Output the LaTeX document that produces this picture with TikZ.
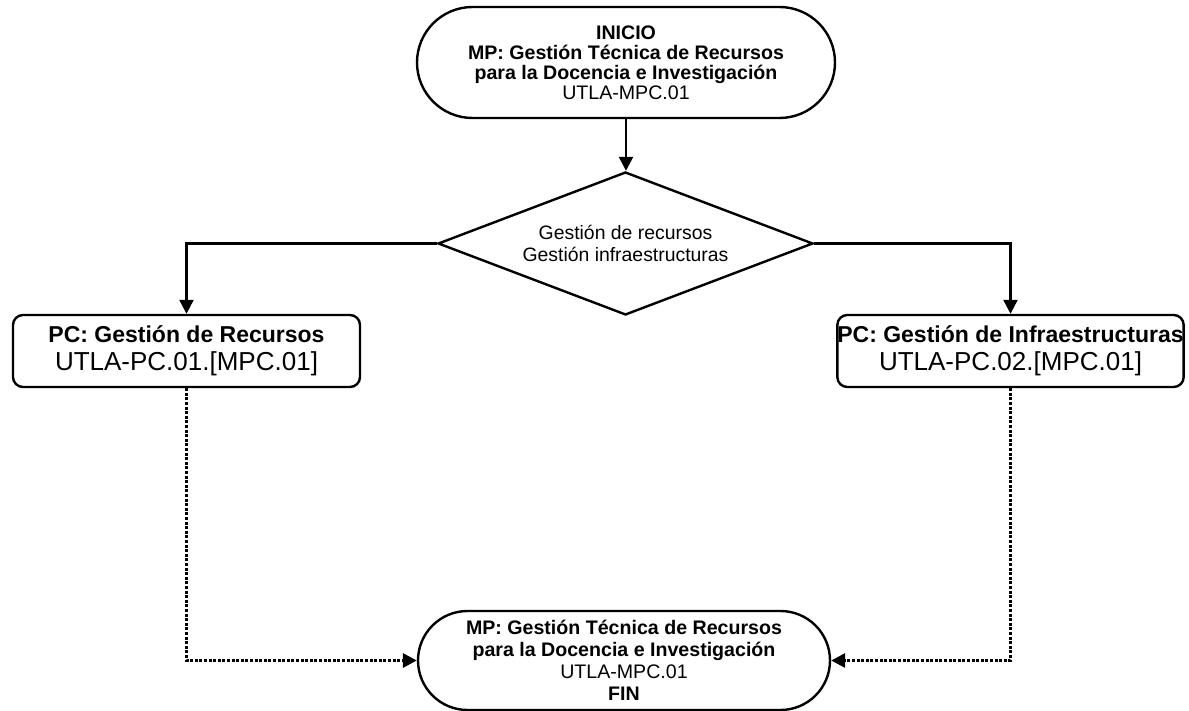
\documentclass[tikz,border=0pt]{standalone}
\usepackage{fontspec}
\setmainfont{Liberation Sans}
\usetikzlibrary{shapes.geometric,shapes.misc,arrows.meta}
\begin{document}
\begin{tikzpicture}[x=0.5pt,y=-0.5pt,
  base/.style={draw, line width=1.2pt, inner sep=0pt, align=center},
  term/.style={base, rounded rectangle, font=\fontsize{9.8}{10}\selectfont},
  proc/.style={base, rounded corners=5pt, font=\fontsize{11.5}{14}\selectfont},
  dec/.style={base, diamond, aspect=2.62, font=\fontsize{9.7}{11}\selectfont},
  arr/.style={line width=1.2pt, -{Triangle[length=7pt,width=7pt]}},
  dots/.style={line width=1.6pt, dash pattern=on 1.5pt off 0.8pt, -{Triangle[length=7pt,width=7pt]}}]
\useasboundingbox (0,0) rectangle (1189,711);
\node[term, minimum width=209pt, minimum height=55.5pt] (ini) at (626,62.5)
  {\textbf{INICIO}\\\textbf{MP: Gestión Técnica de Recursos}\\\textbf{para la Docencia e Investigación}\\UTLA-MPC.01};
\node[dec, minimum width=187.5pt, minimum height=71.5pt] (dec) at (625.5,243.5)
  {Gestión de recursos\\Gestión infraestructuras};
\node[proc, minimum width=173.5pt, minimum height=36pt] (pc1) at (186.5,351)
  {\textbf{PC: Gestión de Recursos}\\{\fontsize{13}{14}\selectfont UTLA-PC.01.[MPC.01]}};
\node[proc, minimum width=167.5pt, minimum height=36pt] (pc2) at (1010.5,351)
  {\textbf{PC: Gestión de Infraestructuras}\\{\fontsize{13}{14}\selectfont UTLA-PC.02.[MPC.01]}};
\node[term, minimum width=206pt, minimum height=49.5pt, font=\fontsize{9.8}{11}\selectfont] (fin) at (624,660.5)
  {\textbf{MP: Gestión Técnica de Recursos}\\\textbf{para la Docencia e Investigación}\\UTLA-MPC.01\\\textbf{FIN}};
\draw[arr] (ini.south) -- (ini.south |- dec.north);
\draw[arr] (dec.west) -| (pc1.north);
\draw[arr] (dec.east) -| (pc2.north);
\draw[dots] (pc1.south) |- (fin.west);
\draw[dots] (pc2.south) |- (fin.east);
\end{tikzpicture}
\end{document}
